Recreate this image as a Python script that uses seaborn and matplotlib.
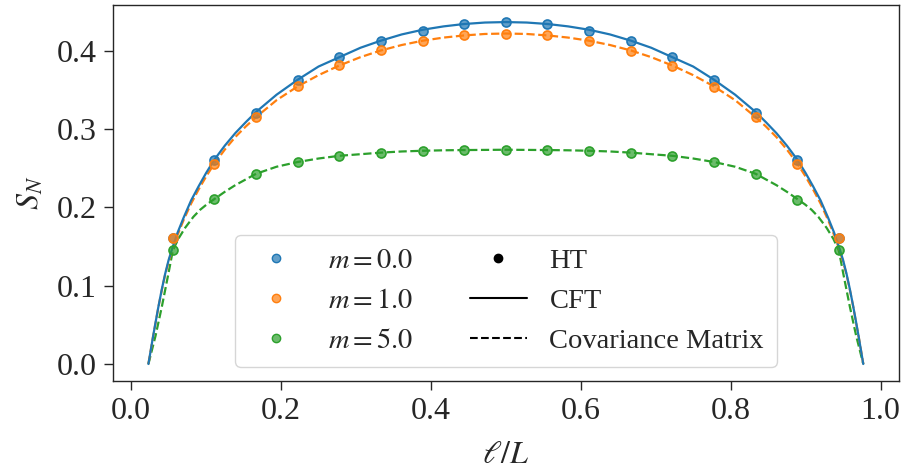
import numpy as np
import pandas as pd
import matplotlib
matplotlib.use('Agg')
import matplotlib.pyplot as plt
import seaborn as sns
from matplotlib.lines import Line2D
from matplotlib.colors import to_rgba

sns.set_style('ticks')
plt.rcParams['font.family'] = ['Liberation Serif', 'DejaVu Serif']
plt.rcParams['mathtext.fontset'] = 'stix'
plt.rcParams['font.size'] = 21

# HT points, l/L = k/18
x_ht = [1/18, 2/18, 3/18, 4/18, 5/18, 6/18, 7/18, 8/18, 9/18,
        10/18, 11/18, 12/18, 13/18, 14/18, 15/18, 16/18, 17/18]
s_m0 = [0.161, 0.261, 0.321, 0.363, 0.392, 0.413, 0.426, 0.434, 0.4368,
        0.434, 0.426, 0.4125, 0.392, 0.363, 0.321, 0.261, 0.161]
s_m1 = [0.161, 0.256, 0.3154, 0.3545, 0.3814, 0.4005, 0.413, 0.4197, 0.4222,
        0.4197, 0.413, 0.400, 0.381, 0.354, 0.315, 0.256, 0.161]
s_m5 = [0.145, 0.2107, 0.243, 0.258, 0.266, 0.270, 0.2724, 0.2733, 0.2737,
        0.2733, 0.272, 0.269, 0.266, 0.258, 0.243, 0.210, 0.145]

# x grid shared by the CFT and m = 1 curves
x_line = [0.023, 0.026, 0.029, 0.0325, 0.0364, 0.041, 0.0453, 0.050, 0.0556,
          0.062, 0.070, 0.080, 0.090, 0.100, 0.111, 0.125, 0.139, 0.153, 0.1667,
          0.194, 0.222, 0.25, 0.278, 0.306, 0.333, 0.361, 0.389, 0.417, 0.444,
          0.472, 0.5, 0.528, 0.556, 0.583, 0.611, 0.639, 0.667, 0.694, 0.722,
          0.75, 0.778, 0.806, 0.8333, 0.847, 0.861, 0.875, 0.889, 0.900, 0.910,
          0.920, 0.930, 0.938, 0.9444, 0.950, 0.9547, 0.959, 0.9636, 0.9675,
          0.971, 0.974, 0.977]

# CFT curve (m = 0)
s_cft = [0.0, 0.017, 0.034, 0.053, 0.0735, 0.096, 0.115, 0.133, 0.150,
         0.168, 0.187, 0.209, 0.227, 0.244, 0.261, 0.279, 0.295, 0.309, 0.322,
         0.344, 0.363, 0.380, 0.392, 0.404, 0.413, 0.421, 0.427, 0.4313, 0.4343,
         0.4362, 0.4368, 0.4362, 0.4343, 0.4313, 0.427, 0.421, 0.413, 0.404, 0.392,
         0.380, 0.363, 0.344, 0.322, 0.309, 0.295, 0.279, 0.261, 0.244, 0.227,
         0.209, 0.187, 0.168, 0.150, 0.133, 0.115, 0.096, 0.0735, 0.053,
         0.034, 0.017, 0.0]

# covariance matrix, m = 1
s_cov1 = [0.0, 0.017, 0.034, 0.052, 0.073, 0.095, 0.114, 0.131, 0.148,
          0.165, 0.184, 0.205, 0.223, 0.2395, 0.256, 0.274, 0.290, 0.3035, 0.3154,
          0.337, 0.3545, 0.369, 0.3814, 0.392, 0.4005, 0.4075, 0.413, 0.417, 0.4197,
          0.4216, 0.4222, 0.4216, 0.4197, 0.417, 0.413, 0.4075, 0.4005, 0.392, 0.3814,
          0.369, 0.3545, 0.337, 0.3154, 0.3035, 0.290, 0.274, 0.256, 0.2395, 0.223,
          0.205, 0.184, 0.165, 0.148, 0.131, 0.114, 0.095, 0.073, 0.052,
          0.034, 0.017, 0.0]

# covariance matrix, m = 5
x_cov5 = [0.023, 0.0325, 0.041, 0.0498, 0.0556, 0.063, 0.072, 0.083, 0.092,
          0.101, 0.111, 0.125, 0.139, 0.1667, 0.194, 0.222, 0.25, 0.278, 0.306,
          0.333, 0.361, 0.389, 0.417, 0.444, 0.472, 0.5, 0.528, 0.556, 0.583,
          0.611, 0.639, 0.667, 0.694, 0.722, 0.75, 0.778, 0.806, 0.8333, 0.861,
          0.875, 0.889, 0.899, 0.908, 0.917, 0.928, 0.937, 0.9444, 0.9502, 0.959,
          0.9675, 0.977]
s_cov5 = [0.0, 0.036, 0.0736, 0.116, 0.145, 0.160, 0.174, 0.188, 0.197,
          0.204, 0.2107, 0.220, 0.2285, 0.243, 0.252, 0.258, 0.2625, 0.266, 0.268,
          0.270, 0.2715, 0.2724, 0.273, 0.2733, 0.2735, 0.2737, 0.2735, 0.2733, 0.273,
          0.2724, 0.2715, 0.270, 0.268, 0.266, 0.2625, 0.258, 0.252, 0.243, 0.2285,
          0.220, 0.2107, 0.204, 0.197, 0.188, 0.174, 0.160, 0.145, 0.116, 0.0736,
          0.036, 0.0]

colors = ['#1f77b4', '#ff7f0e', '#2ca02c']
labels = ['$m = 0.0$', '$m = 1.0$', '$m = 5.0$']

fig, ax = plt.subplots(figsize=(9.05, 4.74), dpi=100)
fig.subplots_adjust(left=0.1245, right=0.9934, top=0.9895, bottom=0.196)

sns.lineplot(x=x_cov5, y=s_cov5, color=colors[2], ls='--', lw=1.6, ax=ax, sort=False)
sns.lineplot(x=x_line, y=s_cov1, color=colors[1], ls='--', lw=1.6, ax=ax, sort=False)
sns.lineplot(x=x_line, y=s_cft, color=colors[0], ls='-', lw=1.6, ax=ax, sort=False)

for s, c in zip([s_m0, s_m1, s_m5], colors):
    sns.scatterplot(x=x_ht, y=s, ax=ax, s=42, color=c, edgecolor=c,
                    linewidth=1.2, zorder=3)
    ax.collections[-1].set_facecolor(to_rgba(c, 0.7))

for sp in ax.spines.values():
    sp.set_visible(True)
    sp.set_linewidth(1.0)
ax.tick_params(labelsize=23, length=6.5, width=1.0, pad=5)
ax.set_xticks([0.0, 0.2, 0.4, 0.6, 0.8, 1.0])
ax.set_yticks([0.0, 0.1, 0.2, 0.3, 0.4])
ax.set_xlabel(r'$\ell/L$', fontsize=23, labelpad=11)
ax.set_ylabel(r'$S_N$', fontsize=23, labelpad=8)

handles = [Line2D([], [], ls='', marker='o', ms=6, color=c, mfc=to_rgba(c, 0.7),
                  mec=c) for c in colors]
handles += [Line2D([], [], ls='', marker='o', ms=6, color='k'),
            Line2D([], [], ls='-', color='k', lw=1.5),
            Line2D([], [], ls='--', color='k', lw=1.5)]
ax.legend(handles, labels + ['HT', 'CFT', 'Covariance Matrix'], ncol=2,
          loc='lower center', bbox_to_anchor=(0.5, 0.0), fontsize=20.5,
          labelspacing=0.5, borderpad=0.45)

fig.savefig('out.png', dpi=100)
